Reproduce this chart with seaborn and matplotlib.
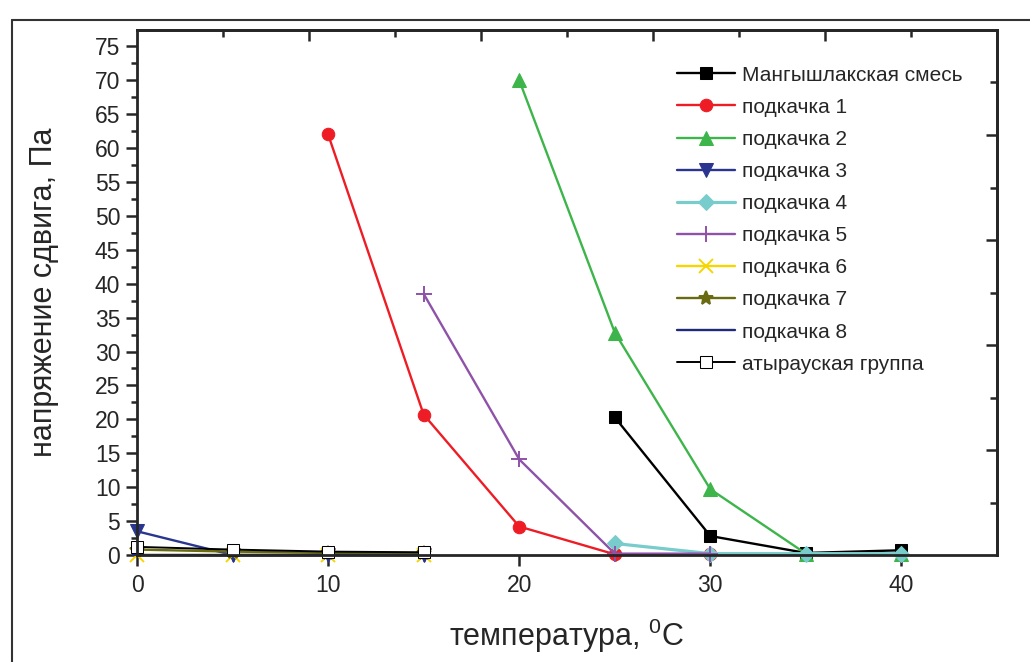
import numpy as np
import pandas as pd
import matplotlib
matplotlib.use("Agg")
import matplotlib.pyplot as plt
import seaborn as sns
from matplotlib.ticker import FixedLocator, MultipleLocator
from matplotlib.lines import Line2D

# ---- data ----
series_names = ["Мангышлакская смесь", "подкачка 1", "подкачка 2", "подкачка 3",
                "подкачка 4", "подкачка 5", "подкачка 6", "подкачка 7",
                "подкачка 8", "атырауская группа"]
x_mang = [25, 30, 35, 40];   y_mang = [20.3, 2.8, 0.3, 0.7]
x_p1 = [10, 15, 20, 25, 30]; y_p1 = [62.0, 20.7, 4.2, 0.1, 0.1]
x_p2 = [20, 25, 30, 35, 40]; y_p2 = [70.0, 32.8, 9.7, 0.2, 0.1]
x_p3 = [0, 5, 10, 15];       y_p3 = [3.5, 0.0, 0.0, 0.0]
x_p4 = [25, 30, 35, 40];     y_p4 = [1.7, 0.2, 0.2, 0.2]
x_p5 = [15, 20, 25, 30];     y_p5 = [38.5, 14.1, 0.2, 0.2]
x_p6 = [0, 5, 10, 15];       y_p6 = [0.0, 0.0, 0.0, 0.0]
x_p7 = [0, 5, 10, 15];       y_p7 = [0.8, 0.5, 0.3, 0.3]
x_p8 = [0, 5, 10, 15];       y_p8 = [0.05, 0.05, 0.05, 0.05]
x_at = [0, 5, 10, 15];       y_at = [1.2, 0.8, 0.5, 0.4]

xs = [x_mang, x_p1, x_p2, x_p3, x_p4, x_p5, x_p6, x_p7, x_p8, x_at]
ys = [y_mang, y_p1, y_p2, y_p3, y_p4, y_p5, y_p6, y_p7, y_p8, y_at]

colors = ["#000000", "#ee1c25", "#3db54a", "#2a3590", "#79cccc", "#8e52a8",
          "#f7d500", "#6a6a10", "#1f2a7a", "#000000"]
markers = ["s", "o", "^", "v", "D", "+", "x", "*", "_", "s"]
msizes = [8, 9, 10, 10, 8.5, 11, 10, 10, 7, 8]
mfaces = [None, None, None, None, None, None, None, None, None, "white"]
lwidths = [1.7, 1.7, 1.7, 1.7, 2.3, 1.7, 1.7, 1.7, 1.7, 1.4]

sns.set_style("ticks")
plt.rcParams['font.family'] = ['Liberation Sans', 'DejaVu Sans']
plt.rcParams['mathtext.fontset'] = 'custom'
plt.rcParams['mathtext.rm'] = 'Liberation Sans'

fig = plt.figure(figsize=(10.3, 6.62), dpi=100)
ax = fig.add_axes([137/1030, 1 - 555/662, (997-137)/1030, (555-30)/662])

for name, x, y, c, m, ms, mf, lw in zip(series_names, xs, ys, colors, markers,
                                        msizes, mfaces, lwidths):
    df = pd.DataFrame({"x": x, "y": y})
    kw = dict(markerfacecolor=mf if mf else c, markeredgecolor=c)
    if m in ("+", "x", "*", "_"):
        kw["markeredgewidth"] = 1.4
    sns.lineplot(data=df, x="x", y="y", ax=ax, color=c, marker=m, markersize=ms,
                 linewidth=lw, label=name, clip_on=False, **kw)

yl = 77.4
ax.set_xlim(0, 45)
ax.set_ylim(0, yl)

ax.xaxis.set_major_locator(FixedLocator([0, 10, 20, 30, 40]))
ax.xaxis.set_minor_locator(FixedLocator([5, 15, 25, 35]))
ax.set_yticks(np.arange(0, 76, 5))
ax.yaxis.set_minor_locator(MultipleLocator(2.5))

ax.tick_params(axis='both', which='major', direction='out', length=8, width=1.8,
               labelsize=16.5, pad=4)
ax.tick_params(axis='x', which='major', pad=6)
ax.tick_params(axis='both', which='minor', direction='out', length=4, width=1.8)
for s in ax.spines.values():
    s.set_linewidth(2)
    s.set_visible(True)

# mirrored frame ticks (10 divisions, inward)
top = ax.secondary_xaxis('top')
top.set_xticks([9, 18, 27, 36])
top.xaxis.set_minor_locator(FixedLocator([4.5, 13.5, 22.5, 31.5, 40.5]))
top.tick_params(which='major', direction='in', length=8, width=1.8, labeltop=False)
top.tick_params(which='minor', direction='in', length=5, width=1.8)
top.set_xticklabels([])
top.spines['top'].set_linewidth(2)

right = ax.secondary_yaxis('right')
right.set_yticks([yl*0.2, yl*0.4, yl*0.6, yl*0.8])
right.yaxis.set_minor_locator(FixedLocator([yl*0.1, yl*0.3, yl*0.5, yl*0.7, yl*0.9]))
right.tick_params(which='major', direction='in', length=8, width=1.8, labelright=False)
right.tick_params(which='minor', direction='in', length=5, width=1.8)
right.set_yticklabels([])
right.spines['right'].set_linewidth(2)

ax.set_xlabel(r"температура, $^{\mathrm{0}}$C", fontsize=22, labelpad=14)
ax.set_ylabel("напряжение сдвига, Па", fontsize=22, labelpad=26)

leg = ax.legend(loc='upper left', bbox_to_anchor=(0.611, 0.96), frameon=False,
                fontsize=15, handlelength=2.8, handletextpad=0.3,
                labelspacing=0.63, borderpad=0.2)

# outer frame lines (top and left)
fig.add_artist(Line2D([12/1030, 12/1030], [0, 1 - 20/662], transform=fig.transFigure,
                      color='#333333', linewidth=1.5))
fig.add_artist(Line2D([12/1030, 1], [1 - 20/662, 1 - 20/662], transform=fig.transFigure,
                      color='#333333', linewidth=1.5))

fig.savefig("out.png", dpi=100)
